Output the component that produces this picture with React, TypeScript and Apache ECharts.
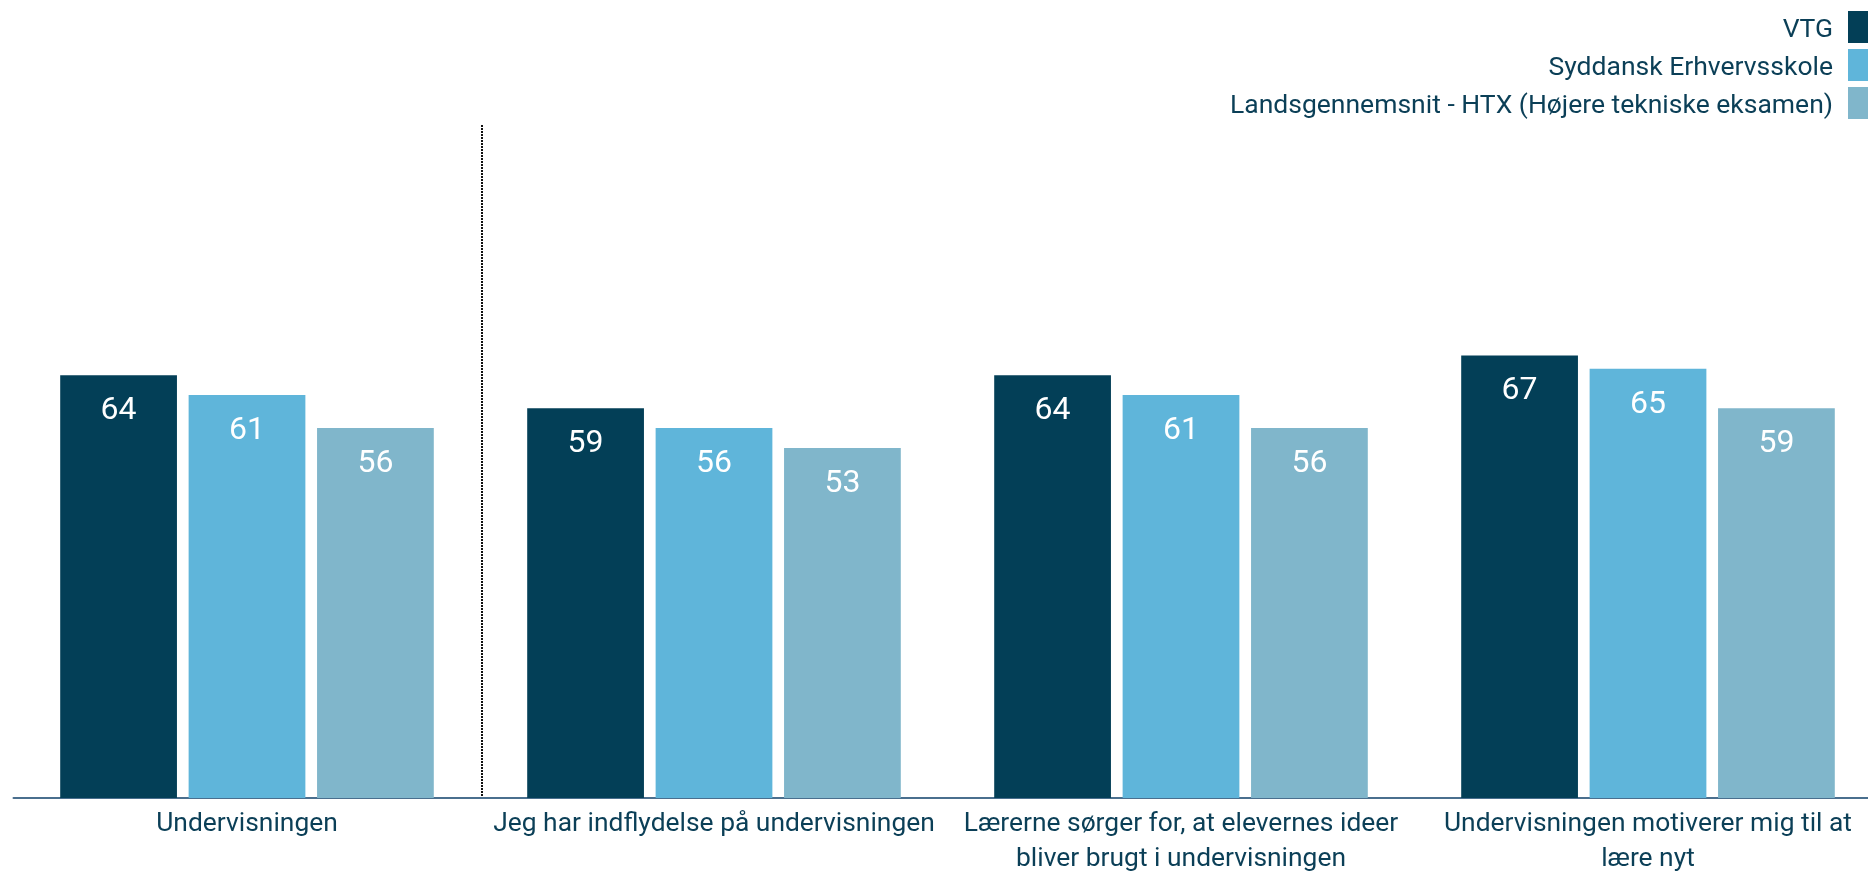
import React, { useEffect, useRef } from "react";
import * as echarts from "echarts";

const categories = [
  "Undervisningen",
  "Jeg har indflydelse på undervisningen",
  "Lærerne sørger for, at elevernes ideer\nbliver brugt i undervisningen",
  "Undervisningen motiverer mig til at\nlære nyt",
];
const seriesNames = [
  "VTG",
  "Syddansk Erhvervsskole",
  "Landsgennemsnit - HTX (Højere tekniske eksamen)",
];
const vtg = [64, 59, 64, 67];
const syddansk = [61, 56, 61, 65];
const landsgennemsnit = [56, 53, 56, 59];
const colors = ["#033f57", "#5fb5da", "#80b6cb"];

const FONT = "Roboto, 'Liberation Sans', Arial, sans-serif";
const TEXT_COLOR = "#0b3f57";

export default function App() {
  const ref = useRef<HTMLDivElement>(null);
  useEffect(() => {
    if (!ref.current) return;
    const chart = echarts.init(ref.current, undefined, { renderer: "svg" });
    const values = [vtg, syddansk, landsgennemsnit];
    chart.setOption({
      animation: false,
      textStyle: { fontFamily: FONT },
      legend: {
        orient: "vertical",
        right: 32,
        top: 11,
        padding: 0,
        align: "right",
        icon: "rect",
        itemWidth: 20,
        itemHeight: 32,
        itemGap: 6,
        textStyle: {
          fontSize: 26.5,
          color: TEXT_COLOR,
          fontFamily: FONT,
          padding: [0, 10, 0, 0],
        },
        data: seriesNames,
      },
      grid: { left: 13.5, top: 137.5, width: 1868, height: 662.5 },
      xAxis: {
        type: "category",
        data: categories,
        axisLine: { lineStyle: { color: "#4a6f8e", width: 2 } },
        axisTick: { show: false },
        axisLabel: {
          interval: 0,
          fontSize: 26.4,
          color: TEXT_COLOR,
          fontFamily: FONT,
          lineHeight: 35,
          margin: 6,
        },
      },
      yAxis: {
        type: "value",
        min: 0,
        max: 100,
        show: false,
        splitLine: { show: false },
      },
      graphic: [
        {
          type: "line",
          shape: { x1: 482, y1: 125, x2: 482, y2: 800 },
          style: { stroke: "#111", lineWidth: 2, lineDash: [2, 1] },
        },
      ],
      series: seriesNames.map((name, i) => ({
        name,
        type: "bar",
        data: values[i],
        barGap: "10%",
        barCategoryGap: "20%",
        itemStyle: { color: colors[i] },
        label: {
          show: true,
          position: "insideTop",
          distance: 17,
          color: "#ffffff",
          fontSize: 32,
          fontFamily: FONT,
        },
      })),
    });
    return () => chart.dispose();
  }, []);
  return (
    <div
      ref={ref}
      style={{ position: "fixed", left: 0, top: 0, width: 1900, height: 874 }}
    />
  );
}
